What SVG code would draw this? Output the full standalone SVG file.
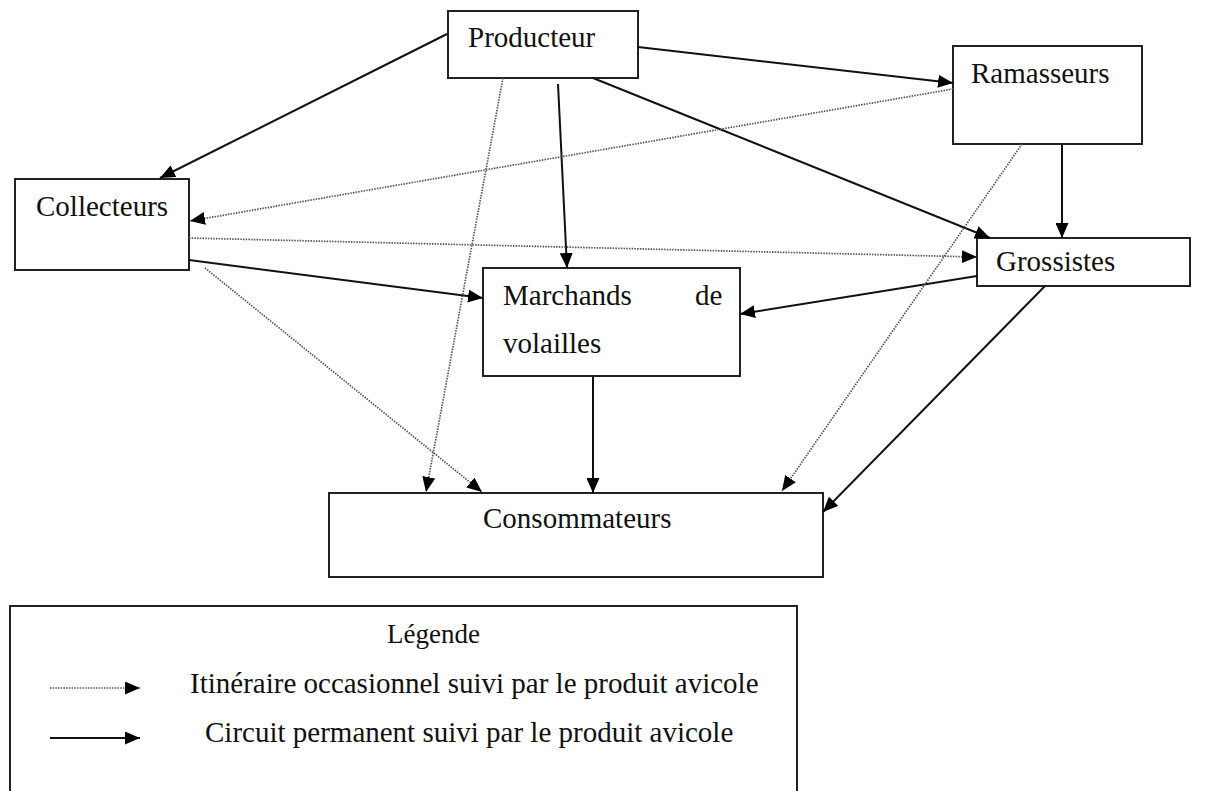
<svg xmlns="http://www.w3.org/2000/svg" width="1213" height="791" viewBox="0 0 1213 791">
<style>
.box{fill:#fff;stroke:#222;stroke-width:2}
.t{font-family:"Liberation Serif","Times New Roman",serif;font-size:29px;fill:#111}
.solid{stroke:#111;stroke-width:2;fill:none}
.dot{stroke:#555;stroke-width:1.7;stroke-dasharray:1.5 1.2;fill:none}
</style>
<defs>
<marker id="ah" markerUnits="userSpaceOnUse" markerWidth="16" markerHeight="13" refX="15" refY="6.5" orient="auto">
<path d="M0,0 L15,6.5 L0,13 z" fill="#000"/>
</marker>
</defs>
<rect width="1213" height="791" fill="#fff"/>
<g id="producteur"><rect class="box" x="448" y="11" width="190" height="67"/><text class="t" x="468" y="47">Producteur</text></g>
<g id="ramasseurs"><rect class="box" x="953" y="46" width="189" height="98"/><text class="t" x="971" y="83">Ramasseurs</text></g>
<g id="collecteurs"><rect class="box" x="15" y="179" width="174" height="91"/><text class="t" x="36" y="216">Collecteurs</text></g>
<g id="grossistes"><rect class="box" x="977" y="238" width="213" height="48"/><text class="t" x="996" y="271">Grossistes</text></g>
<g id="marchands"><rect class="box" x="483" y="268" width="257" height="108"/><text class="t" x="503" y="305">Marchands</text><text class="t" x="695" y="305">de</text><text class="t" x="503" y="353">volailles</text></g>
<g id="consommateurs"><rect class="box" x="329" y="493" width="494" height="84"/><text class="t" x="483" y="528">Consommateurs</text></g>
<g id="connectors">
<line class="solid" x1="447" y1="34" x2="160" y2="178" marker-end="url(#ah)"/>
<line class="solid" x1="638" y1="47" x2="953" y2="83" marker-end="url(#ah)"/>
<line class="solid" x1="593" y1="78" x2="990" y2="238" marker-end="url(#ah)"/>
<line class="solid" x1="558" y1="84" x2="567" y2="268" marker-end="url(#ah)"/>
<line class="solid" x1="1062" y1="144" x2="1062" y2="238" marker-end="url(#ah)"/>
<line class="solid" x1="189" y1="260" x2="483" y2="298" marker-end="url(#ah)"/>
<line class="solid" x1="977" y1="276" x2="740" y2="314" marker-end="url(#ah)"/>
<line class="solid" x1="593" y1="376" x2="593" y2="493" marker-end="url(#ah)"/>
<line class="solid" x1="1045" y1="286" x2="823" y2="512" marker-end="url(#ah)"/>
<line class="dot" x1="953" y1="89" x2="190" y2="221" marker-end="url(#ah)"/>
<line class="dot" x1="189" y1="238" x2="977" y2="257" marker-end="url(#ah)"/>
<line class="dot" x1="205" y1="268" x2="482" y2="492" marker-end="url(#ah)"/>
<line class="dot" x1="503" y1="78" x2="426" y2="492" marker-end="url(#ah)"/>
<line class="dot" x1="1022" y1="144" x2="782" y2="491" marker-end="url(#ah)"/>
</g>
<g id="legende">
<rect class="box" x="10" y="606" width="787" height="200"/>
<text class="t" x="387" y="643" style="font-size:27px">Légende</text>
<line class="dot" x1="50" y1="688" x2="140" y2="688" marker-end="url(#ah)"/>
<text class="t" x="190" y="693">Itinéraire occasionnel suivi par le produit avicole</text>
<line class="solid" x1="50" y1="738" x2="140" y2="738" marker-end="url(#ah)"/>
<text class="t" x="205" y="742">Circuit permanent suivi par le produit avicole</text>
</g>
</svg>
